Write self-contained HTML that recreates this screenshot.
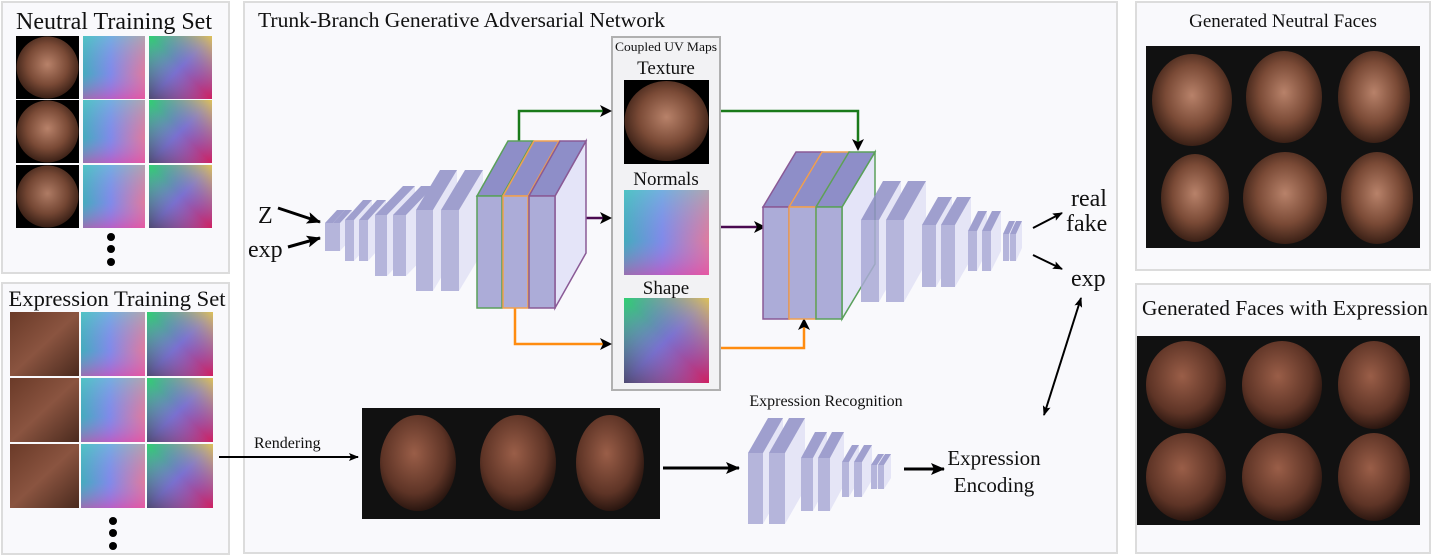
<!DOCTYPE html>
<html><head><meta charset="utf-8"><style>
html,body{margin:0;padding:0;background:#fff;width:1432px;height:556px;overflow:hidden}
svg{display:block}
text{font-family:"Liberation Serif","Times New Roman",serif;fill:#111}
</style></head><body>
<svg width="1432" height="556" viewBox="0 0 1432 556" xmlns="http://www.w3.org/2000/svg">
<defs>
<radialGradient id="skin" cx="50%" cy="45%" r="55%"><stop offset="0" stop-color="#b8826a"/><stop offset="0.6" stop-color="#7a4a36"/><stop offset="1" stop-color="#3a2016"/></radialGradient>
<radialGradient id="skin2" cx="45%" cy="40%" r="60%"><stop offset="0" stop-color="#9a5e48"/><stop offset="0.7" stop-color="#5e3426"/><stop offset="1" stop-color="#2a1610"/></radialGradient>
<linearGradient id="nrmA" x1="0" y1="0" x2="1" y2="0"><stop offset="0" stop-color="#2fb7b0"/><stop offset="0.45" stop-color="#7a8de8"/><stop offset="1" stop-color="#f07a8a"/></linearGradient>
<linearGradient id="nrmB" x1="0" y1="0" x2="0" y2="1"><stop offset="0" stop-color="#6fd0d8" stop-opacity="0.5"/><stop offset="0.6" stop-color="#9a7ef0" stop-opacity="0.2"/><stop offset="1" stop-color="#e040b0" stop-opacity="0.6"/></linearGradient>
<linearGradient id="shpA" x1="0" y1="0" x2="1" y2="1"><stop offset="0" stop-color="#30d070"/><stop offset="0.5" stop-color="#7a70d0"/><stop offset="1" stop-color="#d02060"/></linearGradient>
<linearGradient id="shpB" x1="1" y1="0" x2="0" y2="1"><stop offset="0" stop-color="#f0d040" stop-opacity="0.85"/><stop offset="0.5" stop-color="#8080e0" stop-opacity="0"/><stop offset="1" stop-color="#303030" stop-opacity="0.6"/></linearGradient>
<linearGradient id="expT" x1="0" y1="0" x2="1" y2="1"><stop offset="0" stop-color="#6a3a28"/><stop offset="0.5" stop-color="#8a5440"/><stop offset="1" stop-color="#4a2a1e"/></linearGradient>
<marker id="ah" markerWidth="10" markerHeight="8" refX="9" refY="4" orient="auto" markerUnits="userSpaceOnUse"><path d="M0,0 L10,4 L0,8 L2,4 z" fill="#000"/></marker>
<marker id="ahb" markerWidth="14" markerHeight="12" refX="13" refY="6" orient="auto" markerUnits="userSpaceOnUse"><path d="M0,0 L14,6 L0,12 L3,6 z" fill="#000"/></marker>
<marker id="ahs" markerWidth="10" markerHeight="8" refX="9" refY="4" orient="auto-start-reverse" markerUnits="userSpaceOnUse"><path d="M0,0 L10,4 L0,8 L2,4 z" fill="#000"/></marker>
</defs>

<rect x="2" y="2" width="227" height="271" fill="#f9f9fc" stroke="#dcdcdc" stroke-width="2"/>
<rect x="2" y="283" width="227" height="271" fill="#f9f9fc" stroke="#dcdcdc" stroke-width="2"/>
<rect x="244" y="2" width="873" height="551" fill="#f9f9fc" stroke="#dcdcdc" stroke-width="2"/>
<rect x="1136" y="2" width="294" height="268" fill="#f9f9fc" stroke="#dcdcdc" stroke-width="2"/>
<rect x="1136" y="284" width="294" height="269" fill="#f9f9fc" stroke="#dcdcdc" stroke-width="2"/>

<text x="114" y="29" font-size="24" text-anchor="middle">Neutral Training Set</text>
<text x="117" y="306" font-size="22" text-anchor="middle" textLength="217" lengthAdjust="spacingAndGlyphs">Expression Training Set</text>
<text x="258" y="27" font-size="21" textLength="407" lengthAdjust="spacingAndGlyphs">Trunk-Branch Generative Adversarial Network</text>
<text x="1283" y="27" font-size="19" text-anchor="middle">Generated Neutral Faces</text>
<text x="1285" y="315" font-size="21" text-anchor="middle" textLength="286" lengthAdjust="spacingAndGlyphs">Generated Faces with Expression</text>

<g>
<rect x="16" y="36" width="63" height="63" fill="#000"/><ellipse cx="47.5" cy="67.5" rx="31" ry="31" fill="url(#skin)"/>
<rect x="16" y="100" width="63" height="63" fill="#000"/><ellipse cx="47.5" cy="131.5" rx="31" ry="31" fill="url(#skin)"/>
<rect x="16" y="165" width="63" height="63" fill="#000"/><ellipse cx="47.5" cy="196.5" rx="31" ry="31" fill="url(#skin)" opacity="0.95"/>
<rect x="83" y="36" width="62" height="63" fill="url(#nrmA)"/><rect x="83" y="36" width="62" height="63" fill="url(#nrmB)"/>
<rect x="83" y="100" width="62" height="63" fill="url(#nrmA)"/><rect x="83" y="100" width="62" height="63" fill="url(#nrmB)"/>
<rect x="83" y="165" width="62" height="63" fill="url(#nrmA)"/><rect x="83" y="165" width="62" height="63" fill="url(#nrmB)"/>
<rect x="149" y="36" width="63" height="63" fill="url(#shpA)"/><rect x="149" y="36" width="63" height="63" fill="url(#shpB)"/>
<rect x="149" y="100" width="63" height="63" fill="url(#shpA)"/><rect x="149" y="100" width="63" height="63" fill="url(#shpB)"/>
<rect x="149" y="165" width="63" height="63" fill="url(#shpA)"/><rect x="149" y="165" width="63" height="63" fill="url(#shpB)"/>
<circle cx="111" cy="237" r="4" fill="#000"/><circle cx="111" cy="249" r="4" fill="#000"/><circle cx="111" cy="262" r="4" fill="#000"/>
</g>
<g>
<rect x="10" y="312" width="69" height="64" fill="url(#expT)"/>
<rect x="10" y="378" width="69" height="64" fill="url(#expT)"/>
<rect x="10" y="444" width="69" height="64" fill="url(#expT)"/>
<rect x="81" y="312" width="64" height="64" fill="url(#nrmA)"/><rect x="81" y="312" width="64" height="64" fill="url(#nrmB)"/>
<rect x="81" y="378" width="64" height="64" fill="url(#nrmA)"/><rect x="81" y="378" width="64" height="64" fill="url(#nrmB)"/>
<rect x="81" y="444" width="64" height="64" fill="url(#nrmA)"/><rect x="81" y="444" width="64" height="64" fill="url(#nrmB)"/>
<rect x="147" y="312" width="66" height="64" fill="url(#shpA)"/><rect x="147" y="312" width="66" height="64" fill="url(#shpB)"/>
<rect x="147" y="378" width="66" height="64" fill="url(#shpA)"/><rect x="147" y="378" width="66" height="64" fill="url(#shpB)"/>
<rect x="147" y="444" width="66" height="64" fill="url(#shpA)"/><rect x="147" y="444" width="66" height="64" fill="url(#shpB)"/>
<circle cx="113" cy="521" r="4" fill="#000"/><circle cx="113" cy="533" r="4" fill="#000"/><circle cx="113" cy="546" r="4" fill="#000"/>
</g>

<rect x="612" y="37" width="108" height="353" fill="#f2f2f4" stroke="#b0b0b0" stroke-width="2"/>
<text x="666" y="51" font-size="12.5" text-anchor="middle" textLength="102" lengthAdjust="spacingAndGlyphs">Coupled UV Maps</text>
<text x="666" y="74" font-size="19" text-anchor="middle">Texture</text>
<text x="666" y="185" font-size="19" text-anchor="middle">Normals</text>
<text x="666" y="294" font-size="19" text-anchor="middle">Shape</text>
<rect x="624" y="80" width="85" height="84" fill="#000"/><ellipse cx="666.5" cy="121" rx="42" ry="40" fill="url(#skin)"/>
<rect x="624" y="190" width="85" height="85" fill="url(#nrmA)"/><rect x="624" y="190" width="85" height="85" fill="url(#nrmB)"/>
<rect x="624" y="298" width="85" height="85" fill="url(#shpA)"/><rect x="624" y="298" width="85" height="85" fill="url(#shpB)"/>

<g fill="none" stroke-width="2.5">
<polyline points="519,141 519,111 604,111" stroke="#1a7a1a"/>
<polyline points="721,111 858,111 858,143" stroke="#1a7a1a"/>
<polyline points="515,308 515,344 604,344" stroke="#ff8c10"/>
<polyline points="721,348 804,348 804,327" stroke="#ff8c10"/>
<line x1="573" y1="218" x2="604" y2="218" stroke="#4a0a50"/>
<line x1="721" y1="227" x2="757" y2="227" stroke="#4a0a50"/>
</g>
<g fill="#000">
<path d="M612,111 l-12,-6 l3,6 l-3,6 z"/>
<path d="M612,344 l-12,-6 l3,6 l-3,6 z"/>
<path d="M612,218 l-12,-6 l3,6 l-3,6 z"/>
<path d="M766,227 l-12,-6 l3,6 l-3,6 z"/>
<path d="M858,151 l-6,-12 l6,3 l6,-3 z"/>
<path d="M804,318 l-6,12 l6,-3 l6,3 z"/>
</g>

<g opacity="0.85">
<g fill="#e2e2f6"><polygon points="333,223 345,210 345,238 333,251"/><polygon points="340,223 352,210 352,238 340,251"/><polygon points="354,220 372,200 372,241 354,261"/><polygon points="368,220 386,200 386,241 368,261"/><polygon points="387,215 415,186 415,247 387,276"/><polygon points="406,215 434,186 434,247 406,276"/><polygon points="433,210 457,170 457,251 433,291"/><polygon points="459,210 483,170 483,251 459,291"/></g>
<g fill="#9090c6"><polygon points="325,223 333,223 345,210 337,210"/><polygon points="333,223 340,223 352,210 345,210"/><polygon points="345,220 354,220 372,200 363,200"/><polygon points="359,220 368,220 386,200 377,200"/><polygon points="375,215 387,215 415,186 403,186"/><polygon points="393,215 406,215 434,186 421,186"/><polygon points="416,210 433,210 457,170 440,170"/><polygon points="441,210 459,210 483,170 465,170"/></g>
<g fill="#aaaad6"><rect x="325" y="223" width="8" height="28"/><rect x="333" y="223" width="7" height="28"/><rect x="345" y="220" width="9" height="41"/><rect x="359" y="220" width="9" height="41"/><rect x="375" y="215" width="12" height="61"/><rect x="393" y="215" width="13" height="61"/><rect x="416" y="210" width="17" height="81"/><rect x="441" y="210" width="18" height="81"/></g>
</g>
<g>
<polygon points="555,196 586,141 586,253 555,308" fill="#e4e4f8" stroke="#8a5a96" stroke-width="1.5"/>
<polygon points="477,196 502,196 533,141 508,141" fill="#8e8ec8" stroke="#5aa05a" stroke-width="1.5"/>
<polygon points="503,196 528,196 559,141 534,141" fill="#8e8ec8" stroke="#f0a050" stroke-width="1.5"/>
<polygon points="529,196 555,196 586,141 560,141" fill="#8e8ec8" stroke="#8a5a96" stroke-width="1.5"/>
<rect x="477" y="196" width="25" height="112" fill="#acacd8" stroke="#5aa05a" stroke-width="1.5"/>
<rect x="503" y="196" width="25" height="112" fill="#acacd8" stroke="#f0a050" stroke-width="1.5"/>
<rect x="529" y="196" width="26" height="112" fill="#acacd8" stroke="#8a5a96" stroke-width="1.5"/>
</g>
<g>
<polygon points="842,207 875,152 875,264 842,319" fill="#e4e4f8" stroke="#5aa05a" stroke-width="1.5"/>
<polygon points="763,207 789,207 822,152 796,152" fill="#8e8ec8" stroke="#8a5a96" stroke-width="1.5"/>
<polygon points="789,207 816,207 849,152 822,152" fill="#8e8ec8" stroke="#f0a050" stroke-width="1.5"/>
<polygon points="816,207 842,207 875,152 849,152" fill="#8e8ec8" stroke="#5aa05a" stroke-width="1.5"/>
<rect x="763" y="207" width="26" height="112" fill="#acacd8" stroke="#8a5a96" stroke-width="1.5"/>
<rect x="789" y="207" width="27" height="112" fill="#acacd8" stroke="#f0a050" stroke-width="1.5"/>
<rect x="816" y="207" width="26" height="112" fill="#acacd8" stroke="#5aa05a" stroke-width="1.5"/>
</g>
<g opacity="0.85">
<g fill="#e2e2f6"><polygon points="879,220 901,181 901,263 879,302"/><polygon points="904,220 926,181 926,263 904,302"/><polygon points="936,225 952,197 952,259 936,287"/><polygon points="955,225 971,197 971,259 955,287"/><polygon points="977,231 987,211 987,251 977,271"/><polygon points="991,231 1001,211 1001,251 991,271"/><polygon points="1009,234 1015,221 1015,248 1009,261"/><polygon points="1016,234 1022,221 1022,248 1016,261"/></g>
<g fill="#9090c6"><polygon points="861,220 879,220 901,181 883,181"/><polygon points="886,220 904,220 926,181 908,181"/><polygon points="922,225 936,225 952,197 938,197"/><polygon points="941,225 955,225 971,197 957,197"/><polygon points="968,231 977,231 987,211 978,211"/><polygon points="982,231 991,231 1001,211 992,211"/><polygon points="1003,234 1009,234 1015,221 1009,221"/><polygon points="1010,234 1016,234 1022,221 1016,221"/></g>
<g fill="#aaaad6"><rect x="861" y="220" width="18" height="82"/><rect x="886" y="220" width="18" height="82"/><rect x="922" y="225" width="14" height="62"/><rect x="941" y="225" width="14" height="62"/><rect x="968" y="231" width="9" height="40"/><rect x="982" y="231" width="9" height="40"/><rect x="1003" y="234" width="6" height="27"/><rect x="1010" y="234" width="6" height="27"/></g>
</g>
<g opacity="0.85">
<g fill="#e2e2f6"><polygon points="763,453 783,418 783,489 763,524"/><polygon points="785,453 805,418 805,489 785,524"/><polygon points="813,458 827,432 827,485 813,511"/><polygon points="830,458 844,432 844,485 830,511"/><polygon points="849,462 859,445 859,480 849,497"/><polygon points="862,462 872,445 872,480 862,497"/><polygon points="877,465 884,454 884,478 877,489"/><polygon points="884,465 891,454 891,478 884,489"/></g>
<g fill="#9090c6"><polygon points="748,453 763,453 783,418 768,418"/><polygon points="769,453 785,453 805,418 789,418"/><polygon points="801,458 813,458 827,432 815,432"/><polygon points="818,458 830,458 844,432 832,432"/><polygon points="842,462 849,462 859,445 852,445"/><polygon points="854,462 862,462 872,445 864,445"/><polygon points="871,465 877,465 884,454 878,454"/><polygon points="878,465 884,465 891,454 885,454"/></g>
<g fill="#aaaad6"><rect x="748" y="453" width="15" height="71"/><rect x="769" y="453" width="16" height="71"/><rect x="801" y="458" width="12" height="53"/><rect x="818" y="458" width="12" height="53"/><rect x="842" y="462" width="7" height="35"/><rect x="854" y="462" width="8" height="35"/><rect x="871" y="465" width="6" height="24"/><rect x="878" y="465" width="6" height="24"/></g>
</g>

<text x="258" y="223" font-size="24">Z</text>
<text x="248" y="257" font-size="24">exp</text>
<line x1="278" y1="208" x2="320" y2="222" stroke="#000" stroke-width="3" marker-end="url(#ahb)"/>
<line x1="288" y1="247" x2="320" y2="238" stroke="#000" stroke-width="3" marker-end="url(#ahb)"/>

<text x="1071" y="206" font-size="24">real</text>
<text x="1066" y="231" font-size="24">fake</text>
<text x="1071" y="286" font-size="24">exp</text>
<line x1="1033" y1="228" x2="1062" y2="213" stroke="#000" stroke-width="2" marker-end="url(#ah)"/>
<line x1="1033" y1="255" x2="1062" y2="269" stroke="#000" stroke-width="2" marker-end="url(#ah)"/>
<line x1="1044" y1="415" x2="1081" y2="298" stroke="#000" stroke-width="2" marker-end="url(#ahs)" marker-start="url(#ahs)"/>

<text x="254" y="448" font-size="16">Rendering</text>
<line x1="219" y1="457" x2="358" y2="457" stroke="#000" stroke-width="2" marker-end="url(#ah)"/>
<rect x="362" y="408" width="298" height="111" fill="#111"/>
<ellipse cx="418" cy="463" rx="38" ry="48" fill="url(#skin2)"/>
<ellipse cx="518" cy="463" rx="38" ry="48" fill="url(#skin2)"/>
<ellipse cx="610" cy="463" rx="34" ry="48" fill="url(#skin2)"/>
<line x1="663" y1="468" x2="739" y2="468" stroke="#000" stroke-width="3" marker-end="url(#ahb)"/>
<text x="826" y="406" font-size="16" text-anchor="middle">Expression Recognition</text>
<line x1="904" y1="469" x2="944" y2="469" stroke="#000" stroke-width="3" marker-end="url(#ahb)"/>
<text x="994" y="465" font-size="21" text-anchor="middle">Expression</text>
<text x="994" y="492" font-size="21" text-anchor="middle">Encoding</text>

<rect x="1146" y="46" width="274" height="202" fill="#111"/>
<ellipse cx="1192" cy="100" rx="40" ry="46" fill="url(#skin)"/>
<ellipse cx="1284" cy="97" rx="38" ry="46" fill="url(#skin)"/>
<ellipse cx="1374" cy="97" rx="36" ry="46" fill="url(#skin)"/>
<ellipse cx="1195" cy="198" rx="34" ry="44" fill="url(#skin)"/>
<ellipse cx="1285" cy="198" rx="42" ry="46" fill="url(#skin)"/>
<ellipse cx="1377" cy="198" rx="36" ry="46" fill="url(#skin)"/>
<rect x="1137" y="336" width="283" height="189" fill="#111"/>
<ellipse cx="1186" cy="385" rx="40" ry="44" fill="url(#skin2)"/>
<ellipse cx="1282" cy="385" rx="40" ry="44" fill="url(#skin2)"/>
<ellipse cx="1374" cy="385" rx="36" ry="44" fill="url(#skin2)"/>
<ellipse cx="1186" cy="477" rx="40" ry="44" fill="url(#skin2)"/>
<ellipse cx="1282" cy="477" rx="40" ry="44" fill="url(#skin2)"/>
<ellipse cx="1374" cy="477" rx="36" ry="44" fill="url(#skin2)"/>
</svg>
</body></html>
